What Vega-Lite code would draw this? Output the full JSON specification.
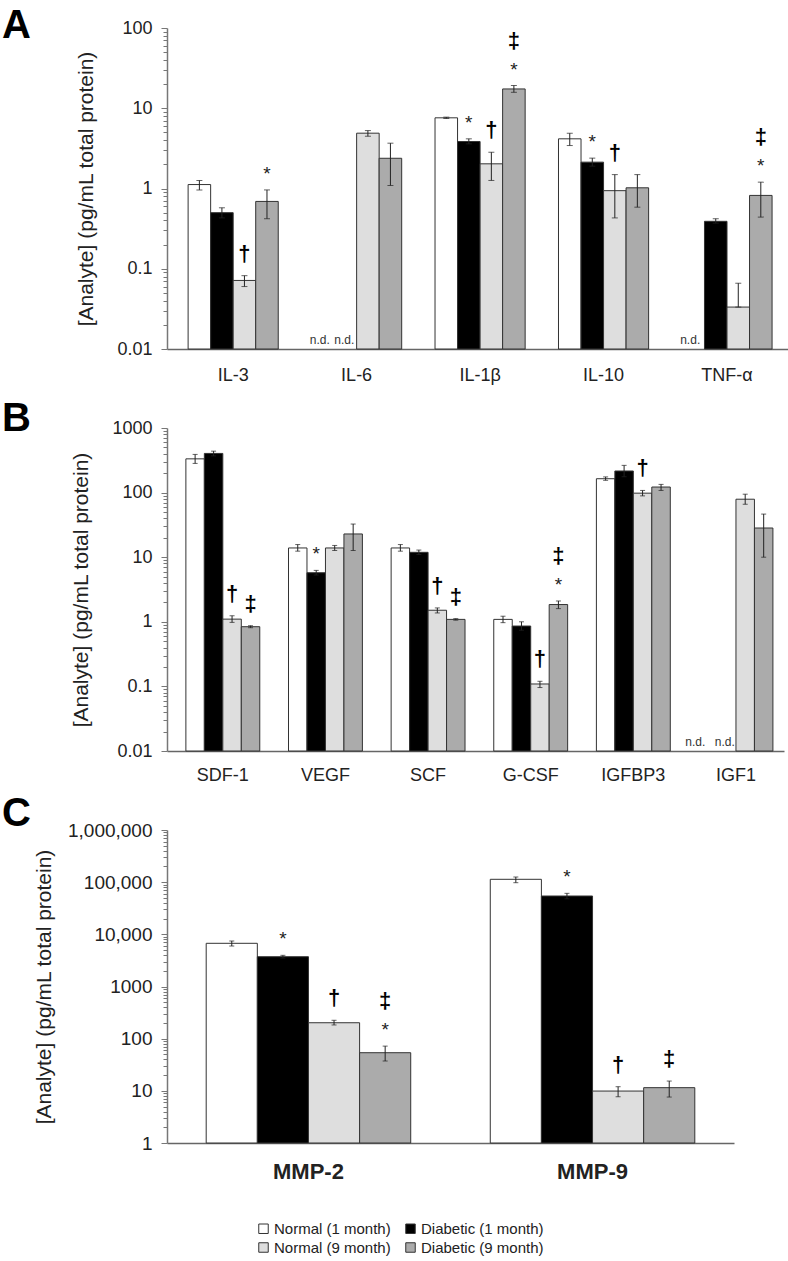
{
  "$schema": "https://vega.github.io/schema/vega-lite/v6.json",
  "padding": {"left": 2, "top": 6, "right": 0, "bottom": 0},
  "data": {"values": [
    {"panel": "A", "analyte": "IL-3", "group": "Normal (1 month)", "value": 1.12, "lo": 0.96, "hi": 1.26, "star": "", "dag": "", "nd": ""},
    {"panel": "A", "analyte": "IL-3", "group": "Diabetic (1 month)", "value": 0.5, "lo": 0.43, "hi": 0.575, "star": "", "dag": "", "nd": ""},
    {"panel": "A", "analyte": "IL-3", "group": "Normal (9 month)", "value": 0.0715, "lo": 0.06, "hi": 0.082, "star": "", "dag": "†", "nd": ""},
    {"panel": "A", "analyte": "IL-3", "group": "Diabetic (9 month)", "value": 0.69, "lo": 0.42, "hi": 0.96, "star": "*", "dag": "", "nd": ""},
    {"panel": "A", "analyte": "IL-6", "group": "Normal (1 month)", "value": null, "lo": null, "hi": null, "star": "", "dag": "", "nd": "n.d."},
    {"panel": "A", "analyte": "IL-6", "group": "Diabetic (1 month)", "value": null, "lo": null, "hi": null, "star": "", "dag": "", "nd": "n.d."},
    {"panel": "A", "analyte": "IL-6", "group": "Normal (9 month)", "value": 4.89, "lo": 4.48, "hi": 5.27, "star": "", "dag": "", "nd": ""},
    {"panel": "A", "analyte": "IL-6", "group": "Diabetic (9 month)", "value": 2.38, "lo": 1.09, "hi": 3.67, "star": "", "dag": "", "nd": ""},
    {"panel": "A", "analyte": "IL-1β", "group": "Normal (1 month)", "value": 7.6, "lo": 7.45, "hi": 7.75, "star": "", "dag": "", "nd": ""},
    {"panel": "A", "analyte": "IL-1β", "group": "Diabetic (1 month)", "value": 3.85, "lo": 3.6, "hi": 4.16, "star": "*", "dag": "", "nd": ""},
    {"panel": "A", "analyte": "IL-1β", "group": "Normal (9 month)", "value": 2.03, "lo": 1.26, "hi": 2.83, "star": "", "dag": "†", "nd": ""},
    {"panel": "A", "analyte": "IL-1β", "group": "Diabetic (9 month)", "value": 17.4, "lo": 15.8, "hi": 19.2, "star": "*", "dag": "‡", "nd": ""},
    {"panel": "A", "analyte": "IL-10", "group": "Normal (1 month)", "value": 4.16, "lo": 3.43, "hi": 4.88, "star": "", "dag": "", "nd": ""},
    {"panel": "A", "analyte": "IL-10", "group": "Diabetic (1 month)", "value": 2.13, "lo": 1.9, "hi": 2.39, "star": "*", "dag": "", "nd": ""},
    {"panel": "A", "analyte": "IL-10", "group": "Normal (9 month)", "value": 0.94, "lo": 0.43, "hi": 1.49, "star": "", "dag": "†", "nd": ""},
    {"panel": "A", "analyte": "IL-10", "group": "Diabetic (9 month)", "value": 1.02, "lo": 0.585, "hi": 1.49, "star": "", "dag": "", "nd": ""},
    {"panel": "A", "analyte": "TNF-α", "group": "Normal (1 month)", "value": null, "lo": null, "hi": null, "star": "", "dag": "", "nd": "n.d."},
    {"panel": "A", "analyte": "TNF-α", "group": "Diabetic (1 month)", "value": 0.39, "lo": 0.37, "hi": 0.42, "star": "", "dag": "", "nd": ""},
    {"panel": "A", "analyte": "TNF-α", "group": "Normal (9 month)", "value": 0.0333, "lo": 0.0333, "hi": 0.066, "star": "", "dag": "", "nd": ""},
    {"panel": "A", "analyte": "TNF-α", "group": "Diabetic (9 month)", "value": 0.82, "lo": 0.44, "hi": 1.2, "star": "*", "dag": "‡", "nd": ""},

    {"panel": "B", "analyte": "SDF-1", "group": "Normal (1 month)", "value": 333, "lo": 283, "hi": 390, "star": "", "dag": "", "nd": ""},
    {"panel": "B", "analyte": "SDF-1", "group": "Diabetic (1 month)", "value": 404, "lo": 370, "hi": 438, "star": "", "dag": "", "nd": ""},
    {"panel": "B", "analyte": "SDF-1", "group": "Normal (9 month)", "value": 1.1, "lo": 0.98, "hi": 1.24, "star": "", "dag": "†", "nd": ""},
    {"panel": "B", "analyte": "SDF-1", "group": "Diabetic (9 month)", "value": 0.84, "lo": 0.81, "hi": 0.87, "star": "", "dag": "‡", "nd": ""},
    {"panel": "B", "analyte": "VEGF", "group": "Normal (1 month)", "value": 13.9, "lo": 12.4, "hi": 15.7, "star": "", "dag": "", "nd": ""},
    {"panel": "B", "analyte": "VEGF", "group": "Diabetic (1 month)", "value": 5.75, "lo": 5.3, "hi": 6.25, "star": "*", "dag": "", "nd": ""},
    {"panel": "B", "analyte": "VEGF", "group": "Normal (9 month)", "value": 13.9, "lo": 12.7, "hi": 15.2, "star": "", "dag": "", "nd": ""},
    {"panel": "B", "analyte": "VEGF", "group": "Diabetic (9 month)", "value": 22.9, "lo": 12.7, "hi": 32.6, "star": "", "dag": "", "nd": ""},
    {"panel": "B", "analyte": "SCF", "group": "Normal (1 month)", "value": 13.9, "lo": 12.4, "hi": 15.7, "star": "", "dag": "", "nd": ""},
    {"panel": "B", "analyte": "SCF", "group": "Diabetic (1 month)", "value": 11.9, "lo": 11.0, "hi": 12.9, "star": "", "dag": "", "nd": ""},
    {"panel": "B", "analyte": "SCF", "group": "Normal (9 month)", "value": 1.51, "lo": 1.37, "hi": 1.64, "star": "", "dag": "†", "nd": ""},
    {"panel": "B", "analyte": "SCF", "group": "Diabetic (9 month)", "value": 1.09, "lo": 1.06, "hi": 1.12, "star": "", "dag": "‡", "nd": ""},
    {"panel": "B", "analyte": "G-CSF", "group": "Normal (1 month)", "value": 1.09, "lo": 0.97, "hi": 1.22, "star": "", "dag": "", "nd": ""},
    {"panel": "B", "analyte": "G-CSF", "group": "Diabetic (1 month)", "value": 0.86, "lo": 0.74, "hi": 1.0, "star": "", "dag": "", "nd": ""},
    {"panel": "B", "analyte": "G-CSF", "group": "Normal (9 month)", "value": 0.109, "lo": 0.096, "hi": 0.12, "star": "", "dag": "†", "nd": ""},
    {"panel": "B", "analyte": "G-CSF", "group": "Diabetic (9 month)", "value": 1.85, "lo": 1.6, "hi": 2.1, "star": "*", "dag": "‡", "nd": ""},
    {"panel": "B", "analyte": "IGFBP3", "group": "Normal (1 month)", "value": 164, "lo": 155, "hi": 175, "star": "", "dag": "", "nd": ""},
    {"panel": "B", "analyte": "IGFBP3", "group": "Diabetic (1 month)", "value": 216, "lo": 176, "hi": 264, "star": "", "dag": "", "nd": ""},
    {"panel": "B", "analyte": "IGFBP3", "group": "Normal (9 month)", "value": 98, "lo": 89, "hi": 108, "star": "", "dag": "†", "nd": ""},
    {"panel": "B", "analyte": "IGFBP3", "group": "Diabetic (9 month)", "value": 122, "lo": 108, "hi": 134, "star": "", "dag": "", "nd": ""},
    {"panel": "B", "analyte": "IGF1", "group": "Normal (1 month)", "value": null, "lo": null, "hi": null, "star": "", "dag": "", "nd": "n.d."},
    {"panel": "B", "analyte": "IGF1", "group": "Diabetic (1 month)", "value": null, "lo": null, "hi": null, "star": "", "dag": "", "nd": "n.d."},
    {"panel": "B", "analyte": "IGF1", "group": "Normal (9 month)", "value": 79, "lo": 66, "hi": 94.5, "star": "", "dag": "", "nd": ""},
    {"panel": "B", "analyte": "IGF1", "group": "Diabetic (9 month)", "value": 28.3, "lo": 10, "hi": 46.5, "star": "", "dag": "", "nd": ""},

    {"panel": "C", "analyte": "MMP-2", "group": "Normal (1 month)", "value": 6730, "lo": 5970, "hi": 7450, "star": "", "dag": "", "nd": ""},
    {"panel": "C", "analyte": "MMP-2", "group": "Diabetic (1 month)", "value": 3725, "lo": 3500, "hi": 3960, "star": "*", "dag": "", "nd": ""},
    {"panel": "C", "analyte": "MMP-2", "group": "Normal (9 month)", "value": 202, "lo": 183, "hi": 225, "star": "", "dag": "†", "nd": ""},
    {"panel": "C", "analyte": "MMP-2", "group": "Diabetic (9 month)", "value": 53.8, "lo": 37.3, "hi": 72, "star": "*", "dag": "‡", "nd": ""},
    {"panel": "C", "analyte": "MMP-9", "group": "Normal (1 month)", "value": 113500, "lo": 97700, "hi": 125600, "star": "", "dag": "", "nd": ""},
    {"panel": "C", "analyte": "MMP-9", "group": "Diabetic (1 month)", "value": 54300, "lo": 48000, "hi": 61100, "star": "*", "dag": "", "nd": ""},
    {"panel": "C", "analyte": "MMP-9", "group": "Normal (9 month)", "value": 9.9, "lo": 7.7, "hi": 12, "star": "", "dag": "†", "nd": ""},
    {"panel": "C", "analyte": "MMP-9", "group": "Diabetic (9 month)", "value": 11.5, "lo": 7.6, "hi": 15.4, "star": "", "dag": "‡", "nd": ""}
  ]},
  "spacing": 10,
  "resolve": {"scale": {"x": "independent", "y": "independent", "xOffset": "independent"}},
  "vconcat": [
    {
      "spacing": 15,
      "resolve": {"scale": {"x": "independent", "y": "independent", "xOffset": "independent"}},
      "vconcat": [
        {
          "width": 621, "height": 321,
          "title": {"text": "A", "anchor": "start", "frame": "group", "font": "Liberation Sans", "fontSize": 40, "fontWeight": "bold", "color": "#000", "dx": -165, "offset": 0, "dy": 27},
          "transform": [{"filter": "datum.panel === 'A'"}],
          "encoding": {
            "x": {"field": "analyte", "type": "nominal", "title": null,
                  "scale": {"domain": ["IL-3", "IL-6", "IL-1β", "IL-10", "TNF-α"], "paddingInner": 0.27, "paddingOuter": 0.15, "align": 0.57},
                  "axis": {"labelFontSize": 18, "labelPadding": 17}},
            "xOffset": {"field": "group", "type": "nominal", "scale": {"domain": ["Normal (1 month)", "Diabetic (1 month)", "Normal (9 month)", "Diabetic (9 month)"], "paddingInner": 0, "paddingOuter": 0}}
          },
          "layer": [
            {"mark": {"type": "bar", "stroke": "#333", "strokeWidth": 1},
             "encoding": {
               "y": {"field": "value", "type": "quantitative", "stack": null, "title": "[Analyte] (pg/mL total protein)",
                     "scale": {"type": "log", "domain": [0.01, 100], "nice": false},
                     "axis": {"titlePadding": 20, "values": [0.01,0.02,0.03,0.04,0.05,0.06,0.07,0.08,0.09,0.1,0.2,0.3,0.4,0.5,0.6,0.7,0.8,0.9,1,2,3,4,5,6,7,8,9,10,20,30,40,50,60,70,80,90,100],
                              "labelExpr": "abs(log(datum.value)/LN10 - round(log(datum.value)/LN10)) < 0.0001 ? format(datum.value, '~g') : ''",
                              "tickSize": {"condition": {"test": "abs(log(datum.value)/LN10 - round(log(datum.value)/LN10)) < 0.0001", "value": 6}, "value": 4}}},
               "fill": {"field": "group", "type": "nominal",
                        "scale": {"domain": ["Normal (1 month)", "Diabetic (1 month)", "Normal (9 month)", "Diabetic (9 month)"], "range": ["#ffffff", "#000000", "#dedede", "#ababab"]},
                        "legend": {"title": null, "orient": "none", "legendX": 89, "legendY": 1193, "direction": "horizontal", "columns": 2, "symbolType": "square", "symbolSize": 90, "symbolStrokeColor": "#333", "symbolStrokeWidth": 1, "labelFont": "Liberation Sans", "labelFontSize": 15, "labelColor": "#222", "labelOffset": 3, "columnPadding": 12, "rowPadding": 3}}
             }},
            {"mark": {"type": "rule", "color": "#222", "strokeWidth": 1},
             "encoding": {"y": {"field": "lo", "type": "quantitative", "title": "[Analyte] (pg/mL total protein)"}, "y2": {"field": "hi"}}},
            {"mark": {"type": "tick", "color": "#222", "size": 6, "thickness": 1},
             "encoding": {"y": {"field": "hi", "type": "quantitative", "title": "[Analyte] (pg/mL total protein)"}}},
            {"mark": {"type": "tick", "color": "#222", "size": 6, "thickness": 1},
             "encoding": {"y": {"field": "lo", "type": "quantitative", "title": "[Analyte] (pg/mL total protein)"}}},
            {"transform": [{"filter": "datum.star === '*'"}],
             "mark": {"type": "text", "text": "*", "font": "Liberation Sans", "fontSize": 19, "dy": -16, "color": "#222"},
             "encoding": {"y": {"field": "hi", "type": "quantitative", "title": "[Analyte] (pg/mL total protein)"}}},
            {"transform": [{"filter": "datum.dag !== '' && datum.star === '*'"}],
             "mark": {"type": "text", "font": "Liberation Sans", "fontSize": 22, "fontWeight": "bold", "dy": -45, "color": "#000"},
             "encoding": {"y": {"field": "hi", "type": "quantitative", "title": "[Analyte] (pg/mL total protein)"}, "text": {"field": "dag"}}},
            {"transform": [{"filter": "datum.dag !== '' && datum.star !== '*'"}],
             "mark": {"type": "text", "font": "Liberation Sans", "fontSize": 22, "fontWeight": "bold", "dy": -22, "color": "#000"},
             "encoding": {"y": {"field": "hi", "type": "quantitative", "title": "[Analyte] (pg/mL total protein)"}, "text": {"field": "dag"}}},
            {"transform": [{"filter": "datum.nd === 'n.d.' && datum.group === 'Normal (1 month)'"}],
             "mark": {"type": "text", "text": "n.d.", "font": "Liberation Sans", "fontSize": 12, "align": "right", "dx": 7, "dy": -9, "color": "#333"},
             "encoding": {"y": {"datum": 0.01, "type": "quantitative", "title": "[Analyte] (pg/mL total protein)"}}},
            {"transform": [{"filter": "datum.nd === 'n.d.' && datum.group === 'Diabetic (1 month)'"}],
             "mark": {"type": "text", "text": "n.d.", "font": "Liberation Sans", "fontSize": 12, "align": "right", "dx": 9, "dy": -9, "color": "#333"},
             "encoding": {"y": {"datum": 0.01, "type": "quantitative", "title": "[Analyte] (pg/mL total protein)"}}}
          ]
        },
        {
          "width": 617, "height": 323,
          "title": {"text": "B", "anchor": "start", "frame": "group", "font": "Liberation Sans", "fontSize": 40, "fontWeight": "bold", "color": "#000", "dx": -165, "offset": 0, "dy": 20},
          "transform": [{"filter": "datum.panel === 'B'"}],
          "encoding": {
            "x": {"field": "analyte", "type": "nominal", "title": null,
                  "scale": {"domain": ["SDF-1", "VEGF", "SCF", "G-CSF", "IGFBP3", "IGF1"], "paddingInner": 0.28, "paddingOuter": 0.146, "align": 0.63},
                  "axis": {"labelFontSize": 18, "labelPadding": 15}},
            "xOffset": {"field": "group", "type": "nominal", "scale": {"domain": ["Normal (1 month)", "Diabetic (1 month)", "Normal (9 month)", "Diabetic (9 month)"], "paddingInner": 0, "paddingOuter": 0}}
          },
          "layer": [
            {"mark": {"type": "bar", "stroke": "#333", "strokeWidth": 1},
             "encoding": {
               "y": {"field": "value", "type": "quantitative", "stack": null, "title": "[Analyte] (pg/mL total protein)",
                     "scale": {"type": "log", "domain": [0.01, 1000], "nice": false},
                     "axis": {"titlePadding": 20, "values": [0.01,0.02,0.03,0.04,0.05,0.06,0.07,0.08,0.09,0.1,0.2,0.3,0.4,0.5,0.6,0.7,0.8,0.9,1,2,3,4,5,6,7,8,9,10,20,30,40,50,60,70,80,90,100,200,300,400,500,600,700,800,900,1000],
                              "labelExpr": "abs(log(datum.value)/LN10 - round(log(datum.value)/LN10)) < 0.0001 ? format(datum.value, '~g') : ''",
                              "tickSize": {"condition": {"test": "abs(log(datum.value)/LN10 - round(log(datum.value)/LN10)) < 0.0001", "value": 6}, "value": 4}}},
               "fill": {"field": "group", "type": "nominal",
                        "scale": {"domain": ["Normal (1 month)", "Diabetic (1 month)", "Normal (9 month)", "Diabetic (9 month)"], "range": ["#ffffff", "#000000", "#dedede", "#ababab"]},
                        "legend": {"title": null, "orient": "none", "legendX": 89, "legendY": 1193, "direction": "horizontal", "columns": 2, "symbolType": "square", "symbolSize": 90, "symbolStrokeColor": "#333", "symbolStrokeWidth": 1, "labelFont": "Liberation Sans", "labelFontSize": 15, "labelColor": "#222", "labelOffset": 3, "columnPadding": 12, "rowPadding": 3}}
             }},
            {"mark": {"type": "rule", "color": "#222", "strokeWidth": 1},
             "encoding": {"y": {"field": "lo", "type": "quantitative", "title": "[Analyte] (pg/mL total protein)"}, "y2": {"field": "hi"}}},
            {"mark": {"type": "tick", "color": "#222", "size": 5, "thickness": 1},
             "encoding": {"y": {"field": "hi", "type": "quantitative", "title": "[Analyte] (pg/mL total protein)"}}},
            {"mark": {"type": "tick", "color": "#222", "size": 5, "thickness": 1},
             "encoding": {"y": {"field": "lo", "type": "quantitative", "title": "[Analyte] (pg/mL total protein)"}}},
            {"transform": [{"filter": "datum.star === '*'"}],
             "mark": {"type": "text", "text": "*", "font": "Liberation Sans", "fontSize": 19, "dy": -16, "color": "#222"},
             "encoding": {"y": {"field": "hi", "type": "quantitative", "title": "[Analyte] (pg/mL total protein)"}}},
            {"transform": [{"filter": "datum.dag !== '' && datum.star === '*'"}],
             "mark": {"type": "text", "font": "Liberation Sans", "fontSize": 22, "fontWeight": "bold", "dy": -45, "color": "#000"},
             "encoding": {"y": {"field": "hi", "type": "quantitative", "title": "[Analyte] (pg/mL total protein)"}, "text": {"field": "dag"}}},
            {"transform": [{"filter": "datum.dag !== '' && datum.star !== '*'"}],
             "mark": {"type": "text", "font": "Liberation Sans", "fontSize": 22, "fontWeight": "bold", "dy": -22, "color": "#000"},
             "encoding": {"y": {"field": "hi", "type": "quantitative", "title": "[Analyte] (pg/mL total protein)"}, "text": {"field": "dag"}}},
            {"transform": [{"filter": "datum.nd === 'n.d.' && datum.group === 'Normal (1 month)'"}],
             "mark": {"type": "text", "text": "n.d.", "font": "Liberation Sans", "fontSize": 12, "align": "right", "dx": -3, "dy": -9, "color": "#333"},
             "encoding": {"y": {"datum": 0.01, "type": "quantitative", "title": "[Analyte] (pg/mL total protein)"}}},
            {"transform": [{"filter": "datum.nd === 'n.d.' && datum.group === 'Diabetic (1 month)'"}],
             "mark": {"type": "text", "text": "n.d.", "font": "Liberation Sans", "fontSize": 12, "align": "right", "dx": 8, "dy": -9, "color": "#333"},
             "encoding": {"y": {"datum": 0.01, "type": "quantitative", "title": "[Analyte] (pg/mL total protein)"}}}
          ]
        }
      ]
    },
    {
      "width": 567, "height": 313,
      "title": {"text": "C", "anchor": "start", "frame": "group", "font": "Liberation Sans", "fontSize": 40, "fontWeight": "bold", "color": "#000", "dx": -165, "offset": 0, "dy": 13},
      "transform": [{"filter": "datum.panel === 'C'"}],
      "encoding": {
        "x": {"field": "analyte", "type": "nominal", "title": null,
              "scale": {"domain": ["MMP-2", "MMP-9"], "paddingInner": 0.28, "paddingOuter": 0.138, "align": 0.5},
              "axis": {"labelFontSize": 22, "labelFontWeight": "bold", "labelPadding": 18}},
        "xOffset": {"field": "group", "type": "nominal", "scale": {"domain": ["Normal (1 month)", "Diabetic (1 month)", "Normal (9 month)", "Diabetic (9 month)"], "paddingInner": 0, "paddingOuter": 0}}
      },
      "layer": [
        {"mark": {"type": "bar", "stroke": "#333", "strokeWidth": 1},
         "encoding": {
           "y": {"field": "value", "type": "quantitative", "stack": null, "title": "[Analyte] (pg/mL total protein)",
                 "scale": {"type": "log", "domain": [1, 1000000], "nice": false},
                 "axis": {"labelFontSize": 19, "titlePadding": 13, "values": [1,2,3,4,5,6,7,8,9,10,20,30,40,50,60,70,80,90,100,200,300,400,500,600,700,800,900,1000,2000,3000,4000,5000,6000,7000,8000,9000,10000,20000,30000,40000,50000,60000,70000,80000,90000,100000,200000,300000,400000,500000,600000,700000,800000,900000,1000000],
                          "labelExpr": "abs(log(datum.value)/LN10 - round(log(datum.value)/LN10)) < 0.0001 ? (datum.value >= 10000 ? format(datum.value, ',') : format(datum.value, 'd')) : ''",
                          "tickSize": {"condition": {"test": "abs(log(datum.value)/LN10 - round(log(datum.value)/LN10)) < 0.0001", "value": 6}, "value": 4}}},
           "fill": {"field": "group", "type": "nominal",
                    "scale": {"domain": ["Normal (1 month)", "Diabetic (1 month)", "Normal (9 month)", "Diabetic (9 month)"], "range": ["#ffffff", "#000000", "#dedede", "#ababab"]},
                    "legend": {"title": null, "orient": "none", "legendX": 89, "legendY": 1193, "direction": "horizontal", "columns": 2, "symbolType": "square", "symbolSize": 90, "symbolStrokeColor": "#333", "symbolStrokeWidth": 1, "labelFont": "Liberation Sans", "labelFontSize": 15, "labelColor": "#222", "labelOffset": 3, "columnPadding": 12, "rowPadding": 3}}
         }},
        {"mark": {"type": "rule", "color": "#222", "strokeWidth": 1},
         "encoding": {"y": {"field": "lo", "type": "quantitative", "title": "[Analyte] (pg/mL total protein)"}, "y2": {"field": "hi"}}},
        {"mark": {"type": "tick", "color": "#222", "size": 5, "thickness": 1},
         "encoding": {"y": {"field": "hi", "type": "quantitative", "title": "[Analyte] (pg/mL total protein)"}}},
        {"mark": {"type": "tick", "color": "#222", "size": 5, "thickness": 1},
         "encoding": {"y": {"field": "lo", "type": "quantitative", "title": "[Analyte] (pg/mL total protein)"}}},
        {"transform": [{"filter": "datum.star === '*'"}],
         "mark": {"type": "text", "text": "*", "font": "Liberation Sans", "fontSize": 19, "dy": -16, "color": "#222"},
         "encoding": {"y": {"field": "hi", "type": "quantitative", "title": "[Analyte] (pg/mL total protein)"}}},
        {"transform": [{"filter": "datum.dag !== '' && datum.star === '*'"}],
         "mark": {"type": "text", "font": "Liberation Sans", "fontSize": 22, "fontWeight": "bold", "dy": -45, "color": "#000"},
         "encoding": {"y": {"field": "hi", "type": "quantitative", "title": "[Analyte] (pg/mL total protein)"}, "text": {"field": "dag"}}},
        {"transform": [{"filter": "datum.dag !== '' && datum.star !== '*'"}],
         "mark": {"type": "text", "font": "Liberation Sans", "fontSize": 22, "fontWeight": "bold", "dy": -22, "color": "#000"},
         "encoding": {"y": {"field": "hi", "type": "quantitative", "title": "[Analyte] (pg/mL total protein)"}, "text": {"field": "dag"}}}
      ]
    }
  ],
  "config": {
    "font": "Liberation Sans",
    "view": {"stroke": null},
    "axis": {"grid": false, "domainColor": "#777", "domainWidth": 1.5, "tickColor": "#777", "tickWidth": 1, "labelColor": "#222", "labelFont": "Liberation Sans", "titleFont": "Liberation Sans", "titleColor": "#222", "titleFontWeight": "normal", "labelOverlap": false, "labelFlush": false},
    "axisY": {"labelFontSize": 18, "labelPadding": 9, "titleFontSize": 21, "titlePadding": 15},
    "axisX": {"ticks": false, "labelAngle": 0, "domainColor": "#666"}
  }
}
